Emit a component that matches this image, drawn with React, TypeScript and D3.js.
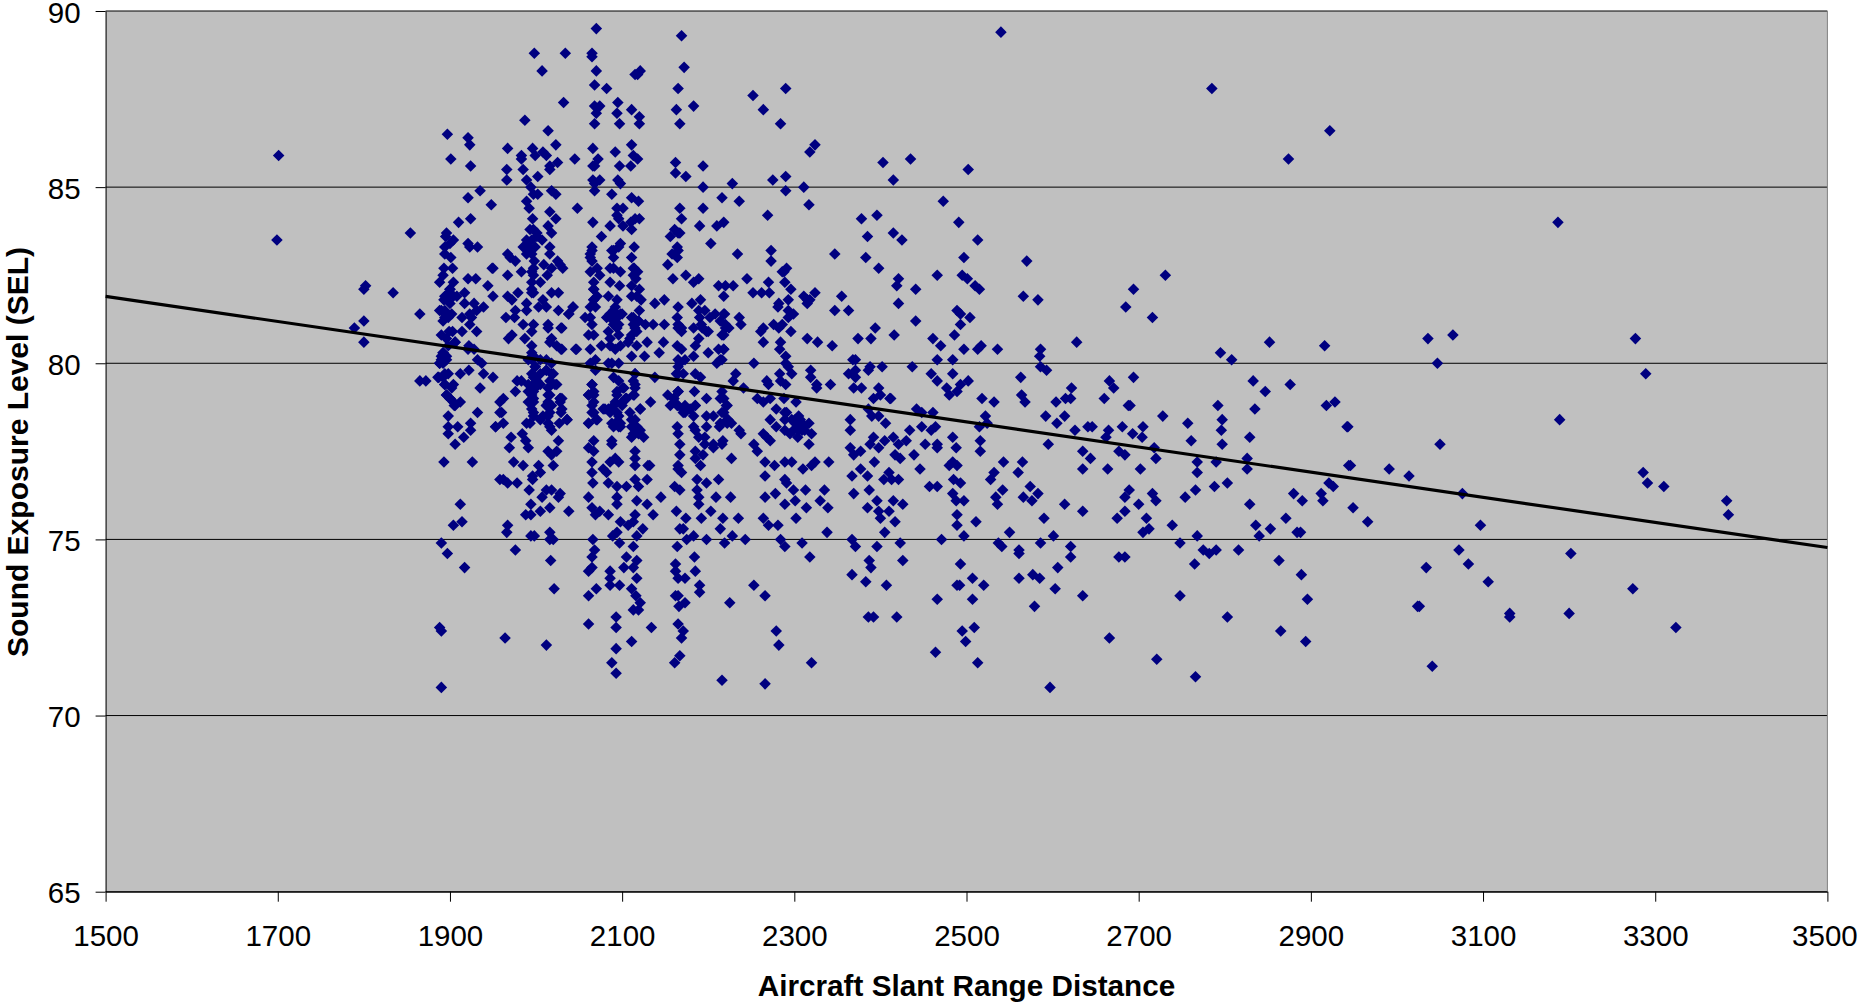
import React, { useEffect, useRef } from 'react'
import * as d3 from 'd3'

const width = 1858
const height = 1006
const margin = { top: 11, left: 105.6, bottom: 114.3, right: 30.6 }
const iwidth = width - margin.left - margin.right
const iheight = height - margin.top - margin.bottom

const xTicks = [1500, 1700, 1900, 2100, 2300, 2500, 2700, 2900, 3100, 3300, 3500]
const yTicks = [65, 70, 75, 80, 85, 90]
const trendX = [1500, 3500]
const trendY = [81.9, 74.77]

type Pt = [number, number]

const farLeft: Pt[] = [
  [1701, 85.9], [1699, 83.5], [1802, 82.2], [1800, 82.1], [1834, 82.0], [1854, 83.7], [1789, 81.0], [1800, 81.2],
  [1800, 80.6], [1865, 81.4], [1865, 79.5], [1872, 79.5],
]

const range1900Upper: Pt[] = [
  [1897, 86.5], [1901, 85.8], [1921, 86.4], [1923, 86.2], [1924, 85.6], [1935, 84.9], [1921, 84.7], [1948, 84.5],
  [1910, 84.0], [1924, 84.1], [1896, 83.7], [1895, 83.6], [1904, 83.5], [1894, 83.3], [1900, 83.4], [1894, 83.1],
  [1901, 83.0], [1893, 82.7], [1903, 82.7], [1892, 82.5], [1888, 82.3], [1904, 82.3], [1900, 82.1], [1894, 81.9],
  [1904, 81.9], [1899, 82.0], [1908, 81.9], [1893, 81.8], [1900, 81.7], [1888, 81.5], [1894, 81.5], [1902, 81.4],
  [1892, 81.2], [1898, 81.3], [1903, 80.9], [1914, 80.9], [1906, 80.6], [1899, 80.9], [1890, 80.8], [1896, 80.7],
  [1921, 83.4], [1932, 83.3], [1923, 83.3], [1921, 82.4], [1930, 82.4], [1944, 82.2], [1950, 81.9], [1917, 82.0],
  [1917, 81.7], [1928, 81.7], [1939, 81.6], [1931, 81.5], [1923, 81.4], [1914, 81.3], [1925, 81.3], [1923, 81.1],
  [1931, 80.9], [1950, 82.7],
]

const range1900Lower: Pt[] = [
  [1898, 80.5], [1906, 80.6], [1892, 80.3], [1890, 80.2], [1896, 80.2], [1888, 80.0], [1892, 80.0], [1922, 80.5],
  [1921, 80.4], [1928, 80.4], [1932, 80.1], [1937, 80.0], [1939, 79.7], [1950, 79.6], [1922, 79.8], [1912, 79.7],
  [1898, 79.7], [1894, 79.7], [1886, 79.6], [1894, 79.4], [1904, 79.4], [1902, 79.3], [1935, 79.3], [1896, 79.1],
  [1900, 79.0], [1904, 78.9], [1912, 78.9], [1905, 78.8], [1898, 78.5], [1932, 78.6], [1924, 78.3], [1898, 78.2],
  [1909, 78.2], [1924, 78.1], [1898, 78.0], [1916, 77.9], [1906, 77.7], [1893, 77.2], [1926, 77.2], [1912, 76.0],
  [1914, 75.5], [1904, 75.4], [1890, 74.9], [1897, 74.6], [1917, 74.2], [1888, 72.5], [1890, 72.4], [1890, 70.8],
  [1953, 78.2], [1958, 78.6], [1958, 78.9], [1958, 76.7],
]

const range2000Upper: Pt[] = [
  [1967, 86.1], [1966, 85.5], [1966, 85.2], [1987, 86.9], [2014, 86.6], [2023, 86.2], [1996, 86.1], [1999, 85.9],
  [1983, 85.9], [1983, 85.8], [2008, 86.0], [2012, 85.9], [1985, 85.5], [2002, 85.3], [1989, 85.2], [2025, 85.7],
  [2016, 85.6], [2016, 85.5], [2045, 85.8], [2032, 87.4], [1998, 88.8], [2034, 88.8], [2007, 88.3], [1994, 85.0],
  [1997, 84.8], [2002, 84.8], [2018, 84.9], [2023, 84.8], [1989, 84.6], [1992, 84.4], [2048, 84.4], [2016, 84.3],
  [2023, 84.1], [1996, 84.1], [1997, 83.8], [2014, 83.9], [2018, 83.7], [2001, 83.7], [1989, 83.5], [1995, 83.5],
  [2007, 83.5], [1991, 83.3], [1999, 83.3], [2016, 83.3], [1989, 83.1], [2016, 83.1], [1998, 82.9], [2025, 82.9],
  [2028, 82.8], [2031, 82.7], [2009, 82.8], [2018, 82.7], [2013, 82.5], [1997, 82.7], [1997, 82.5], [1995, 82.3],
  [1983, 82.6], [1967, 83.1], [1970, 83.0], [1976, 82.9], [1949, 82.7], [1967, 82.5], [2005, 82.3], [1995, 82.1],
  [1997, 82.0], [1967, 81.9], [1972, 81.8], [1979, 82.0], [2008, 81.8], [2018, 82.0], [2026, 82.0], [2003, 81.6],
  [2012, 81.6], [2026, 81.5], [2043, 81.6], [2038, 81.4], [1989, 81.7], [1989, 81.5], [1976, 81.5], [1965, 81.3],
  [1975, 81.3], [1985, 81.1], [1997, 81.1], [1995, 80.9], [2014, 81.1], [2014, 81.0], [2029, 81.0], [1972, 80.8],
  [1968, 80.7], [1987, 80.7], [1995, 80.5], [2018, 80.7], [2016, 80.6], [2024, 80.5], [2029, 80.4], [2046, 80.4],
  [1995, 80.3], [1997, 80.2],
]

const range2000Lower: Pt[] = [
  [1995, 80.1], [1999, 79.9], [1995, 79.7], [2005, 80.1], [2012, 80.1], [2018, 80.0], [2012, 79.8], [2020, 79.7],
  [2016, 79.5], [2024, 79.4], [2001, 79.5], [1991, 79.4], [1999, 79.3], [1983, 79.5], [1978, 79.5], [1976, 79.2],
  [1995, 79.1], [1991, 78.9], [1997, 79.0], [2016, 79.1], [2014, 78.9], [2028, 79.0], [2028, 78.9], [2012, 78.8],
  [1995, 78.7], [1997, 78.5], [2008, 78.5], [2016, 78.6], [2029, 78.6], [1989, 78.3], [1993, 78.3], [2005, 78.4],
  [2014, 78.3], [2027, 78.3], [2036, 78.4], [2016, 78.2], [2018, 78.1], [1984, 78.0], [1971, 77.9], [1962, 79.0],
  [1960, 78.6], [1962, 78.3], [1953, 78.2], [1988, 77.8], [1991, 77.6], [2026, 77.8], [2014, 77.5], [2024, 77.5],
  [2018, 77.4], [1969, 77.6], [1974, 77.2], [1985, 77.1], [2003, 77.1], [2020, 77.1], [2005, 76.9], [1996, 76.8],
  [1996, 76.7], [1962, 76.7], [1967, 76.6], [1978, 76.6], [1992, 76.4], [2012, 76.4], [2018, 76.4], [2028, 76.3],
  [2026, 76.2], [2007, 76.2], [1994, 76.0], [2016, 75.9], [2005, 75.8], [2038, 75.8], [1988, 75.7], [1994, 75.7],
  [1967, 75.4], [1966, 75.2], [1994, 75.1], [1998, 75.1], [2016, 75.2], [2016, 75.0], [2020, 75.0], [1976, 74.7],
  [2017, 74.4], [2021, 73.6], [1964, 72.2], [2012, 72.0],
]

const range2070: Pt[] = [
  [2070, 89.5], [2065, 88.8], [2065, 88.7], [2070, 88.3], [2068, 87.9], [2082, 87.8], [2068, 87.3], [2074, 87.3],
  [2070, 87.1], [2068, 86.8], [2066, 86.1], [2072, 85.8], [2068, 85.6], [2066, 85.6], [2066, 85.2], [2074, 85.2],
  [2068, 85.1], [2068, 84.9], [2088, 84.8], [2066, 84.0], [2076, 83.6], [2065, 83.3], [2063, 83.1], [2065, 82.9],
  [2063, 82.6], [2071, 82.7], [2074, 82.5], [2067, 82.3], [2067, 82.1], [2071, 81.9], [2067, 81.8], [2063, 81.6],
  [2069, 81.6], [2057, 81.3], [2063, 81.3], [2065, 81.1], [2061, 80.8], [2067, 80.8], [2063, 80.4], [2047, 80.4],
  [2043, 81.6], [2038, 81.4], [2030, 81.0], [2030, 80.4], [2069, 80.1], [2063, 80.0], [2069, 79.8], [2065, 79.4],
  [2061, 79.1], [2067, 79.1], [2067, 78.9], [2065, 78.6], [2061, 78.3], [2071, 78.4], [2067, 77.8], [2061, 77.6],
  [2067, 77.5], [2065, 77.2], [2036, 78.4], [2030, 79.0], [2030, 78.7], [2065, 76.9], [2066, 76.6], [2061, 76.2],
  [2065, 75.9], [2069, 75.7], [2074, 75.8], [2084, 75.7], [2066, 75.0], [2068, 74.7], [2065, 74.5], [2065, 74.2],
  [2061, 74.1], [2070, 73.6], [2061, 73.4], [2061, 72.6],
]

const range2090: Pt[] = [
  [2095, 87.4], [2094, 87.1], [2097, 86.8], [2092, 86.0], [2097, 85.6], [2095, 85.2], [2098, 85.1], [2094, 84.4],
  [2101, 84.4], [2094, 84.2], [2096, 84.1], [2086, 83.9], [2101, 83.9], [2098, 83.4], [2088, 83.2], [2096, 83.3],
  [2090, 83.0], [2086, 82.7], [2098, 82.6], [2086, 82.3], [2097, 82.2], [2084, 81.9], [2094, 81.8], [2092, 81.6],
  [2086, 81.4], [2082, 81.3], [2092, 81.4], [2100, 81.4], [2090, 81.1], [2096, 81.1], [2084, 80.9], [2086, 80.7],
  [2096, 80.8], [2076, 80.5], [2086, 80.5], [2092, 80.4], [2098, 80.5], [2088, 80.0], [2096, 80.0], [2084, 80.0],
  [2090, 79.6], [2096, 79.5], [2102, 79.3], [2094, 79.1], [2104, 79.0], [2092, 78.9], [2100, 78.8], [2080, 78.7],
  [2086, 78.6], [2096, 78.5], [2094, 78.3], [2088, 78.3], [2098, 78.2], [2088, 77.8], [2088, 77.7], [2092, 77.3],
  [2086, 77.2], [2096, 77.2], [2078, 77.0], [2082, 76.9], [2084, 76.6], [2094, 76.5], [2105, 76.5], [2094, 76.2],
  [2094, 76.0], [2098, 75.5], [2094, 75.2], [2089, 75.1], [2097, 74.9], [2105, 74.5], [2102, 74.2], [2086, 74.1],
  [2086, 73.9], [2086, 73.7], [2097, 73.7], [2093, 72.8], [2093, 72.5], [2093, 71.9], [2088, 71.5], [2093, 71.2],
]

const range2115: Pt[] = [
  [2121, 88.3], [2115, 88.2], [2118, 88.2], [2111, 87.2], [2120, 87.0], [2120, 86.8], [2111, 86.2], [2113, 85.9],
  [2118, 85.8], [2110, 85.6], [2111, 84.7], [2119, 84.6], [2120, 84.1], [2110, 84.0], [2115, 84.1], [2111, 83.8],
  [2114, 83.3], [2111, 83.0], [2114, 82.7], [2118, 82.6], [2116, 82.4], [2111, 82.2], [2120, 82.1], [2111, 81.9],
  [2117, 81.9], [2122, 81.8], [2120, 81.5], [2111, 81.3], [2119, 81.2], [2127, 81.1], [2136, 81.1], [2149, 81.1],
  [2115, 81.0], [2111, 80.8], [2107, 80.6], [2117, 80.5], [2129, 80.6], [2148, 80.6], [2111, 80.2], [2126, 80.2],
  [2143, 80.3], [2138, 81.7], [2149, 81.8], [2115, 79.7], [2138, 79.6], [2115, 79.4], [2114, 79.1], [2105, 79.0],
  [2133, 78.9], [2121, 78.7], [2109, 78.6], [2115, 78.4], [2111, 78.2], [2121, 78.1], [2111, 77.9], [2125, 77.9],
  [2115, 77.5], [2115, 77.3], [2132, 77.1], [2115, 77.1], [2130, 77.1], [2115, 76.7], [2129, 76.7], [2119, 76.5],
  [2145, 76.2], [2117, 76.1], [2129, 76.0], [2115, 75.7], [2136, 75.7], [2113, 75.5], [2107, 75.4], [2124, 75.3],
  [2117, 75.1], [2113, 74.8], [2117, 74.4], [2113, 74.2], [2117, 73.9], [2111, 73.6], [2116, 73.4], [2121, 73.2],
  [2113, 73.0], [2119, 73.0], [2134, 72.5], [2111, 72.1],
]

const range2170: Pt[] = [
  [2169, 89.3], [2172, 88.4], [2165, 87.8], [2183, 87.3], [2163, 87.2], [2167, 86.8], [2162, 85.7], [2162, 85.4],
  [2174, 85.3], [2167, 84.4], [2169, 84.1], [2161, 83.8], [2167, 83.7], [2156, 83.6], [2165, 83.7], [2164, 83.3],
  [2165, 83.2], [2158, 83.1], [2164, 83.0], [2153, 82.8], [2159, 82.4], [2174, 82.5], [2165, 81.6], [2164, 81.3],
  [2165, 81.0], [2169, 81.0], [2164, 80.5], [2169, 80.4], [2165, 80.1], [2173, 80.1], [2165, 79.9], [2165, 79.7],
  [2153, 79.1], [2165, 79.2], [2160, 79.0], [2156, 78.8], [2164, 78.8], [2173, 78.8], [2171, 78.6], [2164, 78.2],
  [2165, 78.0], [2167, 77.7], [2167, 77.4], [2165, 77.1], [2165, 77.0], [2169, 76.9], [2161, 76.5], [2167, 76.4],
  [2163, 75.8], [2174, 75.6], [2167, 75.3], [2171, 75.3], [2164, 74.8], [2175, 75.0], [2183, 75.1], [2162, 74.3],
  [2162, 74.1], [2165, 73.9], [2173, 73.9], [2162, 73.4], [2165, 73.4], [2173, 73.2], [2166, 73.1], [2165, 72.6],
  [2171, 72.4], [2169, 72.2], [2167, 71.7], [2161, 71.5],
]

const range2190: Pt[] = [
  [2194, 85.6], [2194, 85.0], [2194, 84.4], [2190, 83.9], [2216, 84.7], [2236, 84.6], [2228, 85.1], [2218, 84.0],
  [2210, 83.9], [2203, 83.4], [2183, 82.3], [2189, 82.4], [2212, 82.2], [2220, 82.2], [2218, 81.9], [2181, 81.7],
  [2191, 81.8], [2189, 81.5], [2196, 81.5], [2208, 81.4], [2218, 81.4], [2202, 81.3], [2183, 81.0], [2193, 81.0],
  [2200, 80.9], [2214, 81.2], [2220, 81.0], [2218, 80.8], [2189, 80.7], [2185, 80.5], [2183, 80.2], [2200, 80.3],
  [2212, 80.4], [2218, 80.4], [2214, 80.1], [2210, 80.0], [2185, 79.7], [2191, 79.6], [2184, 79.2], [2198, 79.0],
  [2185, 78.8], [2183, 78.5], [2198, 78.5], [2206, 78.5], [2216, 78.6], [2183, 78.2], [2185, 78.1], [2198, 78.2],
  [2213, 78.2], [2222, 78.3], [2189, 77.9], [2196, 77.7], [2206, 77.6], [2216, 77.7], [2185, 77.5], [2194, 77.4],
  [2185, 77.3], [2191, 77.1], [2218, 79.0], [2222, 78.8], [2187, 76.7], [2212, 76.7], [2198, 76.6], [2187, 76.4],
  [2189, 76.2], [2189, 76.0], [2209, 76.2], [2226, 76.2], [2203, 75.8], [2192, 75.6], [2217, 75.6], [2235, 75.6],
  [2214, 75.3], [2184, 74.5], [2228, 75.1], [2198, 75.0], [2219, 74.9], [2243, 75.0], [2185, 74.1], [2190, 73.7],
  [2190, 73.5], [2225, 73.2], [2216, 71.0],
]

const range2300: Pt[] = [
  [2252, 87.6], [2264, 87.2], [2290, 87.8], [2284, 86.8], [2318, 86.0], [2324, 86.2], [2275, 85.2], [2290, 85.3],
  [2290, 84.9], [2311, 85.0], [2317, 84.5], [2269, 84.2], [2385, 83.6], [2383, 83.0], [2398, 82.7], [2347, 83.1],
  [2234, 83.1], [2273, 83.2], [2273, 82.9], [2286, 82.6], [2291, 82.7], [2288, 82.6], [2245, 82.4], [2270, 82.3],
  [2289, 82.3], [2296, 82.1], [2229, 82.2], [2252, 82.0], [2262, 82.0], [2271, 82.0], [2293, 81.8], [2282, 81.7],
  [2281, 81.6], [2293, 81.5], [2299, 81.4], [2293, 81.3], [2311, 81.9], [2324, 82.0], [2315, 81.8], [2318, 81.8],
  [2315, 81.7], [2355, 81.9], [2347, 81.5], [2363, 81.5], [2236, 81.3], [2238, 81.1], [2219, 81.4], [2220, 81.1],
  [2224, 81.0], [2216, 80.8], [2276, 81.1], [2286, 81.1], [2282, 81.0], [2264, 81.0], [2261, 80.9], [2296, 80.9],
  [2264, 80.6], [2284, 80.6], [2283, 80.4], [2315, 80.7], [2327, 80.6], [2344, 80.5], [2374, 80.7], [2389, 80.7],
  [2394, 81.0], [2218, 80.4], [2216, 80.1], [2253, 80.0], [2290, 80.2], [2290, 80.0], [2293, 79.9], [2297, 79.7],
  [2371, 80.1], [2368, 80.1], [2402, 79.9], [2388, 79.9], [2386, 79.8], [2371, 79.8], [2363, 79.7], [2371, 79.6],
  [2319, 79.8], [2319, 79.6], [2283, 79.7], [2284, 79.5], [2290, 79.4], [2268, 79.5], [2270, 79.4], [2232, 79.7],
  [2229, 79.5], [2241, 79.3], [2326, 79.4], [2326, 79.3], [2342, 79.4], [2369, 79.3], [2378, 79.3], [2398, 79.3],
  [2400, 79.1], [2392, 79.0], [2411, 79.0], [2257, 79.0], [2264, 78.9], [2272, 79.0], [2288, 79.0], [2302, 78.9],
  [2221, 78.8], [2279, 78.7], [2289, 78.6], [2305, 78.5], [2386, 78.7], [2390, 78.5], [2398, 78.5], [2218, 78.6],
  [2289, 78.4], [2272, 78.4], [2222, 78.4], [2227, 78.3], [2279, 78.2], [2301, 78.4], [2317, 78.3], [2311, 78.2],
  [2289, 78.1], [2295, 78.0], [2305, 78.1], [2309, 78.1], [2320, 78.0], [2304, 77.9], [2317, 77.7], [2365, 78.4],
  [2365, 78.1], [2406, 78.3], [2236, 78.1], [2238, 78.0], [2264, 78.0], [2268, 77.9], [2272, 77.8], [2253, 77.7],
  [2257, 77.5], [2217, 77.8], [2365, 77.6], [2369, 77.4], [2377, 77.5], [2392, 77.9], [2388, 77.7], [2398, 77.6],
  [2405, 77.8], [2227, 77.3], [2266, 77.2], [2277, 77.1], [2289, 77.2], [2297, 77.2], [2324, 77.2], [2310, 77.0],
  [2320, 77.1], [2340, 77.2], [2377, 77.0], [2393, 77.2],
  [2266, 76.8], [2289, 76.7], [2291, 76.6], [2299, 76.4], [2313, 76.4], [2335, 76.4], [2278, 76.3], [2266, 76.2],
  [2301, 76.1], [2330, 76.1], [2289, 76.0], [2314, 75.9], [2339, 75.9], [2264, 75.6], [2302, 75.6], [2270, 75.4],
  [2281, 75.4], [2338, 75.2], [2284, 75.0], [2289, 74.8], [2309, 74.9], [2318, 74.5], [2253, 73.7], [2266, 73.4],
  [2279, 72.4], [2282, 72.0], [2266, 70.9], [2320, 71.5],
]

const range2500: Pt[] = [
  [2403, 85.7], [2435, 85.8], [2415, 85.2], [2502, 85.5], [2473, 84.6], [2378, 84.1], [2396, 84.2], [2491, 84.0],
  [2415, 83.7], [2425, 83.5], [2513, 83.5], [2497, 83.0], [2570, 82.9], [2466, 82.5], [2421, 82.4], [2419, 82.2],
  [2441, 82.1], [2495, 82.5], [2501, 82.4], [2510, 82.2], [2515, 82.1], [2566, 81.9], [2583, 81.8], [2421, 81.7],
  [2441, 81.2], [2489, 81.5], [2493, 81.4], [2504, 81.3], [2493, 81.1], [2486, 80.8], [2416, 80.8], [2461, 80.7],
  [2470, 80.5], [2497, 80.4], [2513, 80.4], [2517, 80.5], [2536, 80.4], [2586, 80.4], [2585, 80.2], [2466, 80.1],
  [2484, 80.1], [2437, 79.9], [2459, 79.7], [2484, 79.7], [2586, 79.9], [2593, 79.8], [2563, 79.6], [2466, 79.5],
  [2502, 79.5], [2477, 79.3], [2493, 79.4], [2489, 79.2], [2564, 79.1], [2518, 79.0], [2532, 78.9], [2480, 79.1],
  [2412, 79.0], [2568, 78.9], [2442, 78.7], [2448, 78.6], [2461, 78.6], [2522, 78.5], [2592, 78.5], [2515, 78.2],
  [2524, 78.3], [2464, 78.2], [2459, 78.1], [2448, 78.2], [2434, 78.1], [2415, 77.9], [2421, 77.7], [2430, 77.8],
  [2452, 77.7], [2466, 77.7], [2466, 77.6], [2488, 77.6], [2484, 77.9], [2516, 77.8], [2595, 77.7], [2516, 77.5],
  [2439, 77.4], [2417, 77.4], [2423, 77.3], [2484, 77.2], [2489, 77.1], [2480, 77.1], [2543, 77.2], [2565, 77.2],
  [2446, 77.0], [2560, 76.9], [2532, 76.9], [2528, 76.7], [2410, 76.9], [2413, 76.7], [2421, 76.7], [2485, 76.7],
  [2493, 76.6], [2457, 76.5], [2466, 76.5], [2574, 76.5], [2542, 76.4], [2484, 76.3], [2583, 76.3], [2534, 76.2],
  [2566, 76.2], [2576, 76.1], [2488, 76.1], [2497, 76.1], [2415, 76.1], [2426, 76.0], [2536, 76.0], [2410, 75.8],
  [2489, 75.7], [2590, 75.6], [2417, 75.5], [2511, 75.5], [2489, 75.4], [2405, 75.2], [2550, 75.2], [2497, 75.1],
  [2471, 75.0], [2423, 74.9], [2537, 74.9], [2586, 74.9], [2541, 74.8], [2561, 74.7], [2561, 74.6], [2426, 74.4],
  [2493, 74.3], [2577, 74.0], [2585, 73.9], [2561, 73.9], [2507, 73.9], [2489, 73.7], [2492, 73.7], [2520, 73.7],
  [2407, 73.7], [2466, 73.3], [2507, 73.3], [2579, 73.1], [2419, 72.8], [2509, 72.5], [2495, 72.4], [2499, 72.1],
  [2464, 71.8], [2513, 71.5], [2597, 70.8],
]

const range2370: Pt[] = [
  [2367, 76.8], [2385, 76.8], [2404, 76.7], [2387, 76.4], [2369, 76.3], [2396, 76.1], [2385, 75.9], [2398, 75.8],
  [2400, 75.6], [2367, 75.0], [2396, 74.8], [2371, 74.8], [2387, 74.4], [2389, 74.2], [2367, 74.0], [2383, 73.8],
  [2386, 72.8], [2392, 72.8],
]

const range2700: Pt[] = [
  [2694, 82.1], [2731, 82.5], [2685, 81.6], [2716, 81.3], [2628, 80.6], [2666, 79.5], [2694, 79.6], [2671, 79.3],
  [2622, 79.3], [2604, 78.9], [2615, 79.0], [2621, 79.0], [2660, 79.0], [2688, 78.8], [2690, 78.8], [2614, 78.5],
  [2728, 78.5], [2605, 78.3], [2626, 78.1], [2641, 78.2], [2646, 78.2], [2665, 78.1], [2681, 78.2], [2705, 78.2],
  [2693, 78.0], [2704, 77.9], [2662, 77.9], [2757, 78.3], [2761, 77.8], [2635, 77.5], [2677, 77.5], [2684, 77.4],
  [2718, 77.6], [2644, 77.3], [2720, 77.3], [2768, 77.2], [2635, 77.0], [2664, 77.0], [2702, 77.0], [2768, 76.9],
  [2689, 76.4], [2766, 76.4], [2716, 76.3], [2684, 76.2], [2720, 76.1], [2754, 76.2], [2614, 76.0], [2700, 76.0],
  [2635, 75.8], [2684, 75.8], [2675, 75.6], [2709, 75.6], [2739, 75.4], [2705, 75.2], [2712, 75.3], [2601, 75.1],
  [2768, 75.1], [2748, 74.9], [2621, 74.8], [2775, 74.7], [2677, 74.5], [2684, 74.5], [2621, 74.5], [2765, 74.3],
  [2606, 74.2], [2603, 73.6], [2635, 73.4], [2748, 73.4], [2666, 72.2], [2721, 71.6], [2766, 71.1],
]

const range2900: Pt[] = [
  [2785, 87.8], [2874, 85.8], [2922, 86.6], [2795, 80.3], [2808, 80.1], [2852, 80.6], [2916, 80.5], [2833, 79.5],
  [2847, 79.2], [2876, 79.4], [2928, 78.9], [2792, 78.8], [2835, 78.7], [2918, 78.8], [2797, 78.4], [2796, 78.1],
  [2829, 77.9], [2797, 77.7], [2826, 77.3], [2790, 77.2], [2826, 77.0], [2803, 76.6], [2788, 76.5], [2880, 76.3],
  [2912, 76.3], [2921, 76.6], [2926, 76.5], [2890, 76.1], [2914, 76.1], [2829, 76.0], [2871, 75.6], [2836, 75.4],
  [2853, 75.3], [2884, 75.2], [2888, 75.2], [2840, 75.1], [2782, 74.6], [2790, 74.7], [2816, 74.7], [2863, 74.4],
  [2889, 74.0], [2896, 73.3], [2803, 72.8], [2865, 72.4], [2894, 72.1], [2942, 78.2], [2944, 77.1],
]

const range3100: Pt[] = [
  [2540, 89.4], [3187, 84.0], [3036, 80.7], [3065, 80.8], [3277, 80.7], [3047, 80.0], [3289, 79.7], [3189, 78.4],
  [2943, 78.2], [3050, 77.7], [2946, 77.1], [2991, 77.0], [3014, 76.8], [3286, 76.9], [3291, 76.6], [3310, 76.5],
  [3076, 76.3], [3383, 76.1], [3385, 75.7], [2949, 75.9], [2966, 75.5], [3097, 75.4], [3072, 74.7], [3202, 74.6],
  [3083, 74.3], [3034, 74.2], [3106, 73.8], [3274, 73.6], [3024, 73.1], [3026, 73.1], [3131, 72.9], [3131, 72.8],
  [3200, 72.9], [3324, 72.5], [3041, 71.4],
]

// points inside the solid blobs, where single diamonds can't be told apart
const overlapLower: Pt[] = [
  [1999, 79.9], [2005, 79.7], [1997, 79.6], [2012, 79.8], [2018, 79.7], [1997, 79.4], [2005, 79.4], [2014, 79.3],
  [2022, 79.4], [1991, 79.2], [1997, 79.2], [2014, 79.1], [1997, 78.9], [2012, 78.8], [2018, 78.8], [1997, 78.6],
  [2014, 78.5], [2028, 79.0], [1991, 80.1], [1997, 80.2], [2065, 79.4], [2067, 79.2], [2061, 79.1], [2065, 78.8],
  [2067, 78.6], [2061, 78.3], [2070, 78.4], [2094, 79.2], [2090, 78.8], [2100, 78.9], [2094, 78.6], [2092, 78.3],
  [2098, 78.3], [2090, 78.2], [2096, 78.2], [2084, 78.7], [2078, 78.7], [2105, 79.0], [2101, 79.3], [2115, 79.3],
  [2113, 79.1], [2121, 78.7], [2111, 78.4], [2117, 78.2], [2113, 78.0], [2119, 78.0], [2115, 79.7], [2113, 79.5],
  [2160, 79.0], [2165, 78.8], [2171, 78.7], [2173, 78.6], [2179, 78.7], [2185, 78.8], [2167, 80.0], [2163, 79.7],
  [2171, 79.7], [2165, 79.2], [2214, 79.0], [2216, 79.2], [2223, 78.4], [2214, 78.3], [2196, 77.9], [2206, 77.7],
  [2291, 78.6], [2297, 78.4], [2301, 78.3], [2309, 78.3], [2299, 78.1], [2312, 78.1], [2307, 78.4],
]

const overlapUpper: Pt[] = [
  [2090, 81.5], [2094, 81.3], [2090, 81.2], [2098, 81.4], [2094, 81.0], [2113, 81.3], [2119, 81.2], [2113, 81.1],
  [2117, 80.9], [2109, 80.7], [2165, 81.1], [2169, 80.9], [2190, 81.3], [2192, 81.1], [2198, 80.9], [1993, 83.8],
  [2001, 83.6], [1985, 83.3], [1995, 83.1], [2065, 83.2], [2063, 83.0], [2090, 83.2], [2090, 82.7], [2113, 82.7],
  [2113, 82.5], [1995, 82.6], [1995, 82.0], [2067, 82.1], [2067, 81.8], [1900, 82.1], [1896, 81.9], [1900, 82.0],
  [1890, 81.5], [1894, 81.3], [1892, 80.3], [1890, 80.1], [1896, 80.1], [1888, 80.0], [1892, 79.6], [1887, 79.6],
  [1896, 79.1], [1900, 79.0], [1906, 78.8], [1894, 79.4],
]

const points: Pt[] = [
  ...farLeft, ...range1900Upper, ...range1900Lower, ...range2000Upper, ...range2000Lower, ...range2070, ...range2090,
  ...range2115, ...range2170, ...range2190, ...range2300, ...range2370, ...range2500, ...range2700, ...range2900,
  ...range3100, ...overlapLower, ...overlapUpper,
]

const App = () => {
  const svgR = useRef<SVGSVGElement>(null)

  useEffect(() => {
    const svg = d3.select(svgR.current)
    svg.selectAll('*').remove()

    const font = '"Liberation Sans", Arial, sans-serif'
    const g = svg.append('g').attr('transform', `translate(${margin.left},${margin.top})`)

    const x = d3.scaleLinear().domain([1500, 3500]).range([0, iwidth])
    const y = d3.scaleLinear().domain([65, 90]).range([iheight, 0])

    g.append('rect')
      .attr('width', iwidth)
      .attr('height', iheight)
      .style('fill', '#c0c0c0')

    g.selectAll('.grid')
      .data(yTicks)
      .enter()
      .append('line')
      .attr('class', 'grid')
      .attr('x1', 0)
      .attr('x2', iwidth)
      .attr('y1', d => y(d))
      .attr('y2', d => y(d))
      .style('stroke', '#000')
      .style('stroke-width', 1)

    // right edge, the top and bottom are covered by the grid lines
    g.append('line')
      .attr('x1', iwidth)
      .attr('x2', iwidth)
      .attr('y1', 0)
      .attr('y2', iheight)
      .style('stroke', '#808080')
      .style('stroke-width', 1)

    const xAxis = g.append('g')
      .attr('transform', `translate(0,${iheight})`)
      .call(d3.axisBottom(x).tickValues(xTicks).tickFormat(d3.format('d')).tickSize(10).tickSizeOuter(0))
    const yAxis = g.append('g')
      .call(d3.axisLeft(y).tickValues(yTicks).tickFormat(d3.format('d')).tickSize(10).tickSizeOuter(0))

    // the last label sits right against the page edge
    xAxis.selectAll('text')
      .attr('y', 33)
      .attr('dy', '0.71em')
      .attr('dx', d => (d === 3500 ? -3 : 0))
    yAxis.selectAll('text').attr('x', -25).attr('dy', '0.38em')
    g.selectAll('.tick text')
      .style('font-family', font)
      .style('font-size', '29.5px')
      .style('fill', '#000')
    g.selectAll('.domain').style('stroke', '#000')
    g.selectAll('.tick line').style('stroke', '#000')

    const diamond = d3.symbol().type(d3.symbolDiamond2).size(85)
    g.selectAll('.pt')
      .data(points)
      .enter()
      .append('path')
      .attr('class', 'pt')
      .attr('d', diamond)
      .attr('transform', d => `translate(${x(d[0])},${y(d[1])})`)
      .style('fill', '#000080')

    const trend = d3.line<number>().x(d => x(d)).y((d, i) => y(trendY[i]))
    g.append('path')
      .attr('d', trend(trendX))
      .style('fill', 'none')
      .style('stroke', '#000')
      .style('stroke-width', 3.2)

    svg.append('text')
      .attr('x', margin.left + iwidth / 2)
      .attr('y', 996)
      .attr('text-anchor', 'middle')
      .style('font-family', font)
      .style('font-size', '29.7px')
      .style('font-weight', 'bold')
      .text('Aircraft Slant Range Distance')

    svg.append('text')
      .attr('transform', 'translate(28,452) rotate(-90)')
      .attr('text-anchor', 'middle')
      .style('font-family', font)
      .style('font-size', '30px')
      .style('font-weight', 'bold')
      .text('Sound Exposure Level (SEL)')
  }, [])

  return <svg ref={svgR} width={width} height={height} style={{ position: 'absolute', left: 0, top: 0, background: '#fff' }} />
}

export default App
